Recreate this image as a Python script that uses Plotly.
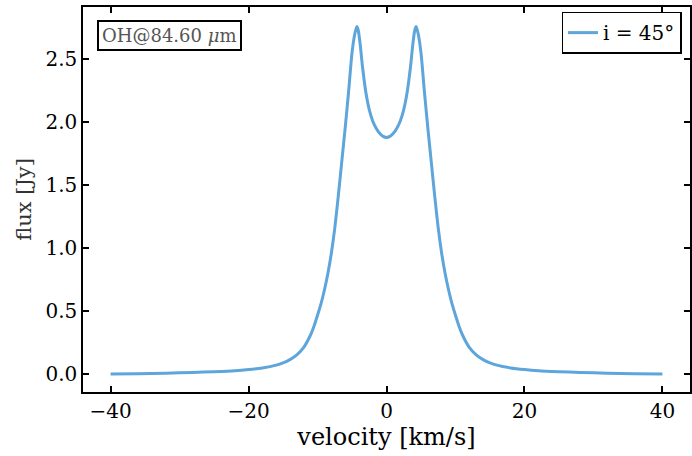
import plotly.graph_objects as go

# right half of the profile (velocity >= 0), mirrored for negative velocities
v_half = [0.0, 0.5, 1.0, 1.5, 2.0, 2.5, 3.0, 3.5, 3.8, 4.1, 4.3, 4.6, 5.0, 5.5, 6.0,
          6.5, 7.0, 7.5, 8.0, 8.5, 9.0, 9.5, 10.0, 10.5, 11.0, 12.0, 13.0, 14.0,
          15.0, 16.0, 18.0, 20.0, 22.0, 25.0, 28.0, 32.0, 36.0, 40.0]
flux_half = [1.88, 1.888, 1.912, 1.952, 2.01, 2.10, 2.24, 2.45, 2.61, 2.73, 2.76, 2.70,
             2.55, 2.24, 1.95, 1.68, 1.41, 1.16, 0.96, 0.80, 0.67, 0.56, 0.47, 0.385,
             0.315, 0.215, 0.155, 0.118, 0.092, 0.074, 0.052, 0.039, 0.030, 0.022,
             0.016, 0.010, 0.006, 0.004]

velocity = [-v for v in reversed(v_half[1:])] + v_half
flux = list(reversed(flux_half[1:])) + flux_half

x_ticks = [-40, -20, 0, 20, 40]
y_ticks = [0.0, 0.5, 1.0, 1.5, 2.0, 2.5]

FONT = "DejaVu Serif"

fig = go.Figure()
fig.add_trace(go.Scatter(
    x=velocity, y=flux, mode="lines",
    line=dict(color="#5DA5DA", width=3, shape="spline", smoothing=0.7),
    name="i = 45°",
))

axis_common = dict(
    showline=True, linecolor="black", linewidth=1.5, mirror="ticks",
    ticks="inside", ticklen=6, tickwidth=1.5, tickcolor="black",
    showgrid=False, zeroline=False, automargin=False,
    tickfont=dict(family=FONT, size=20, color="black"),
)

fig.update_layout(
    width=692, height=456,
    margin=dict(l=83, r=2, t=7, b=64),
    paper_bgcolor="white", plot_bgcolor="white",
    font=dict(family=FONT, color="black"),
    showlegend=True,
    legend=dict(
        x=0.986, y=0.988, xanchor="right", yanchor="top",
        bordercolor="black", borderwidth=1.5, bgcolor="white",
        font=dict(family=FONT, size=20, color="black"),
        itemwidth=30,
    ),
    xaxis=dict(range=[-44, 44], tickvals=x_ticks,
               title=dict(text="velocity [km/s]", font=dict(family=FONT, size=24, color="black"), standoff=2),
               **axis_common),
    yaxis=dict(range=[-0.139, 2.914], tickvals=y_ticks, tickformat=".1f",
               title=dict(text="flux [Jy]", font=dict(family=FONT, size=21, color="#333333"), standoff=8),
               **axis_common),
    annotations=[dict(
        x=0.023, y=0.965, xref="paper", yref="paper", xanchor="left", yanchor="top",
        text="OH@84.60 <i>μ</i>m", showarrow=False,
        font=dict(family=FONT, size=18, color="#555555"),
        bordercolor="black", borderwidth=2, borderpad=3, bgcolor="white",
    )],
)

fig.write_html("out.html", config={"displayModeBar": False},
               post_script="document.body.style.margin='0';document.body.style.overflow='hidden';")
